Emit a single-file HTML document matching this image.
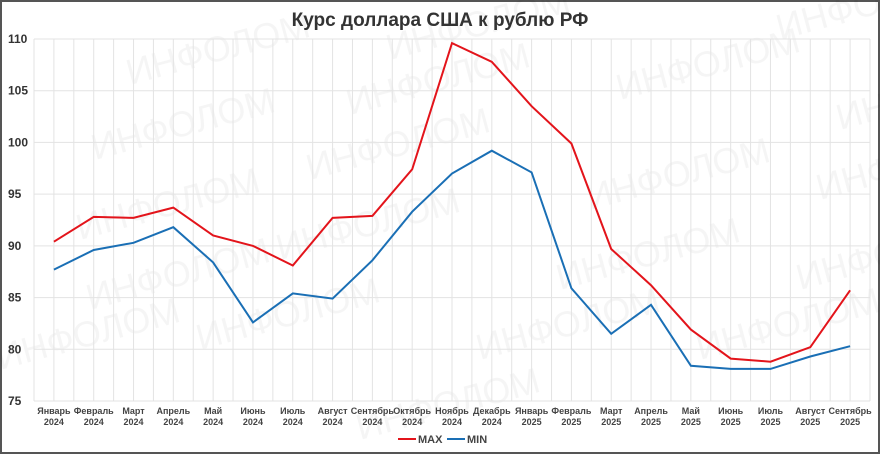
<!DOCTYPE html>
<html><head><meta charset="utf-8"><style>
html,body{margin:0;padding:0;background:#fff}
svg{display:block}
text{font-family:"Liberation Sans","DejaVu Sans",sans-serif}
</style></head><body>
<svg id="c" width="880" height="454" xmlns="http://www.w3.org/2000/svg">
<rect x="1" y="1" width="878" height="452" fill="#fff" stroke="#555" stroke-width="2"/>
<g id="wm" fill="#000" fill-opacity="0.04" font-size="36">
<text transform="translate(130,85) rotate(-15)">ИНФОЛОМ</text>
<text transform="translate(390,60) rotate(-15)">ИНФОЛОМ</text>
<text transform="translate(780,40) rotate(-15)">ИНФОЛОМ</text>
<text transform="translate(95,160) rotate(-15)">ИНФОЛОМ</text>
<text transform="translate(350,115) rotate(-15)">ИНФОЛОМ</text>
<text transform="translate(620,100) rotate(-15)">ИНФОЛОМ</text>
<text transform="translate(840,130) rotate(-15)">ИНФОЛОМ</text>
<text transform="translate(80,240) rotate(-15)">ИНФОЛОМ</text>
<text transform="translate(310,180) rotate(-15)">ИНФОЛОМ</text>
<text transform="translate(590,210) rotate(-15)">ИНФОЛОМ</text>
<text transform="translate(820,200) rotate(-15)">ИНФОЛОМ</text>
<text transform="translate(90,310) rotate(-15)">ИНФОЛОМ</text>
<text transform="translate(280,260) rotate(-15)">ИНФОЛОМ</text>
<text transform="translate(560,290) rotate(-15)">ИНФОЛОМ</text>
<text transform="translate(800,290) rotate(-15)">ИНФОЛОМ</text>
<text transform="translate(0,370) rotate(-15)">ИНФОЛОМ</text>
<text transform="translate(200,350) rotate(-15)">ИНФОЛОМ</text>
<text transform="translate(480,360) rotate(-15)">ИНФОЛОМ</text>
<text transform="translate(700,360) rotate(-15)">ИНФОЛОМ</text>
<text transform="translate(360,440) rotate(-15)">ИНФОЛОМ</text>
</g>
<text x="440" y="26" text-anchor="middle" font-size="19" font-weight="bold" fill="#333">Курс доллара США к рублю РФ</text>
<g id="grid" stroke="#e3e3e3" stroke-width="1"></g>
<g id="lbl" font-size="12" font-weight="bold" fill="#333"></g>
<g id="xl" font-size="9" font-weight="bold" fill="#444" text-anchor="middle"></g>
<polyline id="pmax" fill="none" stroke="#e3141b" stroke-width="2"/>
<polyline id="pmin" fill="none" stroke="#1a6fb5" stroke-width="2"/>
<line x1="398" y1="439" x2="416" y2="439" stroke="#e3141b" stroke-width="2"/>
<text x="418" y="443" font-size="11" font-weight="bold" fill="#444">MAX</text>
<line x1="447" y1="439" x2="465" y2="439" stroke="#1a6fb5" stroke-width="2"/>
<text x="467" y="443" font-size="11" font-weight="bold" fill="#444">MIN</text>
</svg>
<script>
var NS="http://www.w3.org/2000/svg";
function el(t,a,p,txt){var e=document.createElementNS(NS,t);for(var k in a)e.setAttribute(k,a[k]);if(txt!=null)e.textContent=txt;document.getElementById(p).appendChild(e);}
var L=34,R=870,T=39,B=401;
function Y(v){return T+(110-v)*(B-T)/35;}
for(var i=0;i<=42;i++){var x=L+i*(R-L)/42;el("line",{x1:x,y1:T,x2:x,y2:B},"grid");}
for(var v=75;v<=110;v+=5){el("line",{x1:L,y1:Y(v),x2:R,y2:Y(v)},"grid");el("text",{x:8,y:Y(v)+4},"lbl",String(v));}
var m=["Январь","Февраль","Март","Апрель","Май","Июнь","Июль","Август","Сентябрь","Октябрь","Ноябрь","Декабрь"];
var step=(R-L)/21;
for(var i=0;i<21;i++){var x=L+step*(i+0.5)+0;var mo=m[i%12],yr=i<12?"2024":"2025";
el("text",{x:x,y:414},"xl",mo);el("text",{x:x,y:425},"xl",yr);}
var mx=[90.4,92.8,92.7,93.7,91.0,90.0,88.1,92.7,92.9,97.4,109.6,107.8,103.5,99.9,89.7,86.2,81.9,79.1,78.8,80.2,85.7];
var mn=[87.7,89.6,90.3,91.8,88.4,82.6,85.4,84.9,88.6,93.3,97.0,99.2,97.1,85.9,81.5,84.3,78.4,78.1,78.1,79.3,80.3];
function pts(a){return a.map(function(v,i){return (L+step*(i+0.5)).toFixed(1)+","+Y(v).toFixed(1)}).join(" ");}
document.getElementById("pmax").setAttribute("points",pts(mx));
document.getElementById("pmin").setAttribute("points",pts(mn));
</script>
</body></html>
